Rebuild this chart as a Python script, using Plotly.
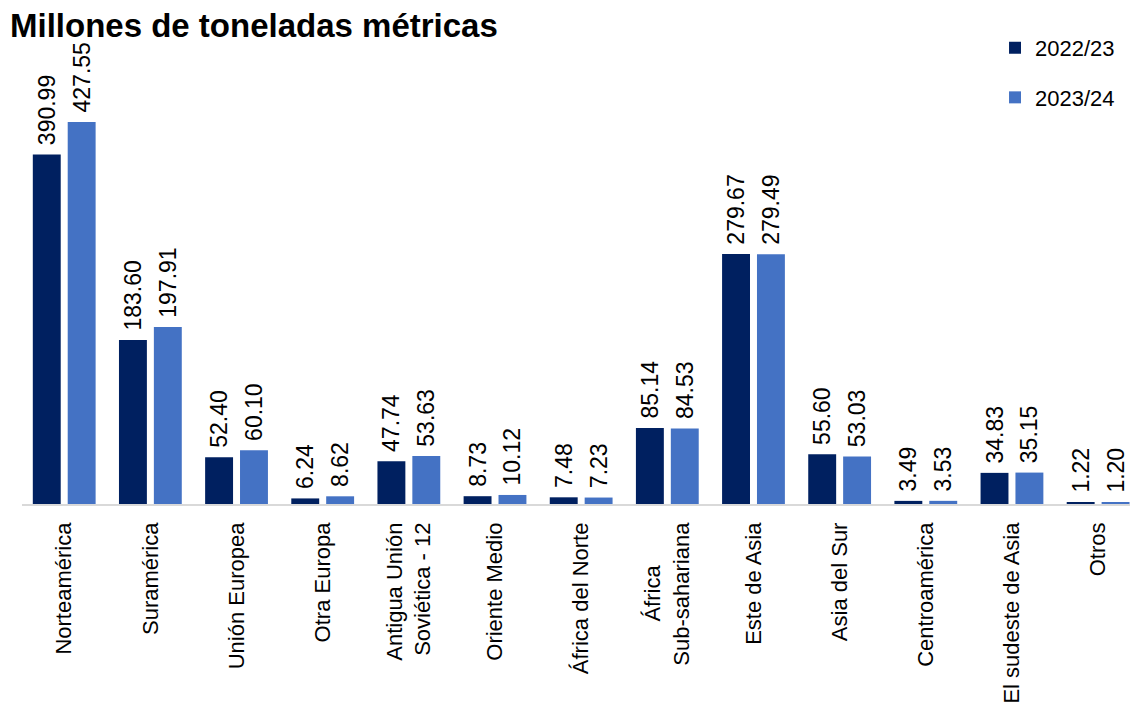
import plotly.graph_objects as go

NB = "\u00a0"
categories = ["Norteamérica", "Suramérica", "Unión Europea", "Otra Europa",
              "Antigua Unión<br>Soviética - 12", "Oriente Medio", "África del Norte",
              "África" + NB * 7 + "<br>Sub-sahariana", "Este de Asia", "Asia del Sur",
              "Centroamérica", "El sudeste de Asia", "Otros"]
s2022 = [390.99, 183.60, 52.40, 6.24, 47.74, 8.73, 7.48, 85.14, 279.67, 55.60, 3.49, 34.83, 1.22]
s2023 = [427.55, 197.91, 60.10, 8.62, 53.63, 10.12, 7.23, 84.53, 279.49, 53.03, 3.53, 35.15, 1.20]
names = ["2022/23", "2023/24"]
colors = ["#002060", "#4472C4"]

font = "Liberation Sans, Arial, sans-serif"
fig = go.Figure()
for vals, nm, col in zip([s2022, s2023], names, colors):
    fig.add_trace(go.Bar(
        x=categories, y=vals, name=nm, marker_color=col, marker_line_width=0,
        text=[NB + f"{v:.2f}" for v in vals], textposition="outside", textangle=-90,
        textfont=dict(size=23, color="#000000", family=font),
        constraintext="none", cliponaxis=False, legendgroup=nm,
    ))

fig.update_layout(
    width=1130, height=706,
    margin=dict(l=22, r=0, t=75, b=202),
    plot_bgcolor="white", paper_bgcolor="white",
    barmode="group", bargap=0.19, bargroupgap=0.2,
    font=dict(family=font, size=22, color="#000000"),
    showlegend=True,
    legend=dict(x=0.991, xanchor="right", y=1.112, yanchor="top",
                font=dict(size=22), tracegroupgap=18, itemwidth=30,
                bgcolor="rgba(0,0,0,0)"),
    title=dict(text="<b>Millones de toneladas métricas</b>", xref="container", yref="container",
               x=10 / 1130, xanchor="left", y=1 - 25 / 706, yanchor="middle",
               font=dict(size=33, color="#000000", family=font)),
)
fig.update_xaxes(tickangle=-90, showline=True, linecolor="#D9D9D9", linewidth=1.5,
                 ticks="", tickfont=dict(size=22, color="#000000"),
                 range=[-0.49, 12.37], ticklabelstandoff=8)
fig.update_yaxes(visible=False, range=[0, 480], showgrid=False)

fig.write_html("out.html")
